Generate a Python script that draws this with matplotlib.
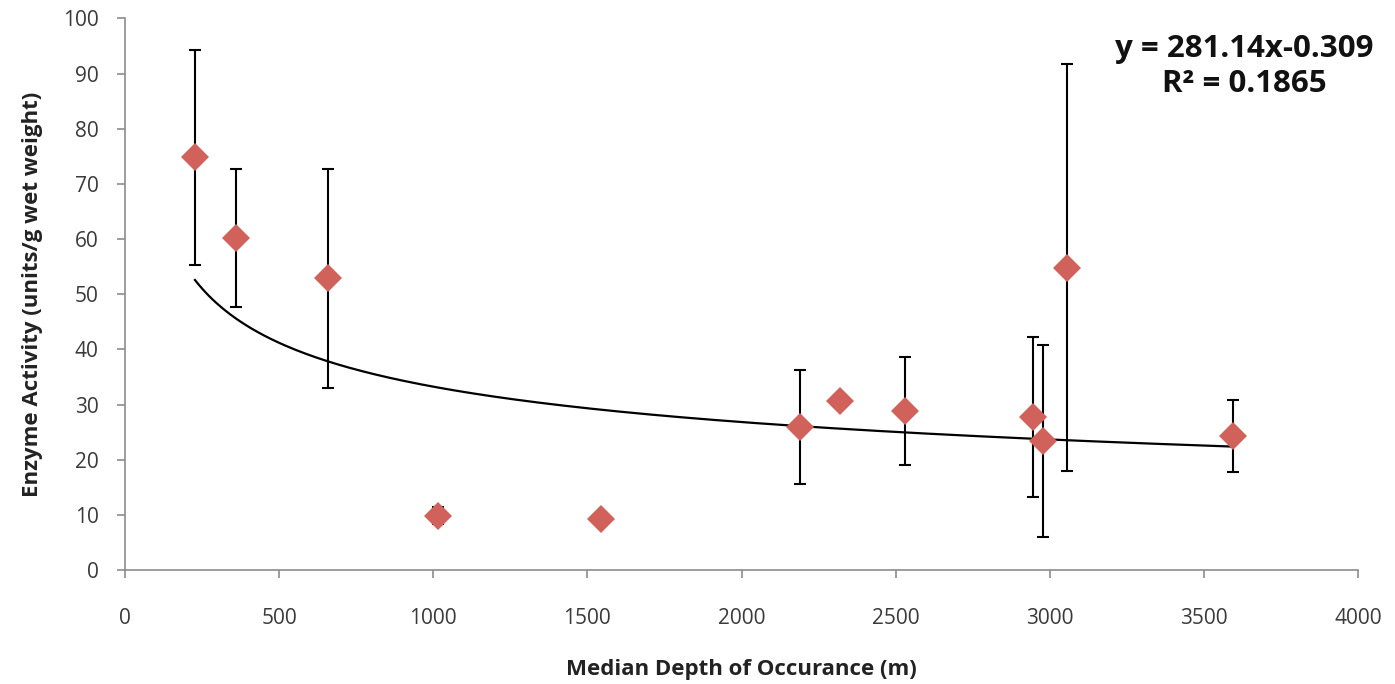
import numpy as np
import matplotlib.pyplot as plt

# данные
depth = [227, 361, 659, 1015, 1545, 2190, 2321, 2529, 2947, 2977, 3055, 3595]
activity = [74.8, 60.2, 52.9, 9.9, 9.2, 26.0, 30.6, 28.8, 27.7, 23.4, 54.8, 24.3]
err = [19.5, 12.5, 19.8, 1.5, 0, 10.3, 0, 9.8, 14.5, 17.4, 36.9, 6.5]

# степенной тренд y = a * x^b
coef_a = 281.14
coef_b = -0.309
eq_text = "y = 281.14x-0.309\nR² = 0.1865"

xticks = [0, 500, 1000, 1500, 2000, 2500, 3000, 3500, 4000]
yticks = [0, 10, 20, 30, 40, 50, 60, 70, 80, 90, 100]

plt.rcParams['font.family'] = ['Open Sans', 'DejaVu Sans']

fig = plt.figure(figsize=(13.95, 6.84), dpi=100)
ax = fig.add_axes([0.0896, 0.1664, 0.8839, 0.8067])

ax.errorbar(depth, activity, yerr=err, fmt='none', ecolor='black',
            elinewidth=1.5, capsize=4, capthick=1.5, zorder=2)

xs = np.linspace(min(depth), max(depth), 300)
ax.plot(xs, coef_a * xs ** coef_b, color='black', lw=1.6, zorder=3)

ax.plot(depth, activity, linestyle='none', marker='D', ms=14,
        color='#D0625B', markeredgewidth=0, zorder=4)

ax.set_xlim(0, 4000)
ax.set_ylim(0, 100)
ax.set_xticks(xticks)
ax.set_yticks(yticks)

for side in ['top', 'right']:
    ax.spines[side].set_visible(False)
for side in ['left', 'bottom']:
    ax.spines[side].set_color('#8c8c8c')
    ax.spines[side].set_linewidth(1.2)
ax.tick_params(colors='#8c8c8c', labelcolor='#3a3a3a', labelsize=15,
               length=6, width=1.2, direction='out')
ax.tick_params(axis='x', pad=21)
ax.tick_params(axis='y', pad=13)

ax.set_xlabel("Median Depth of Occurance (m)", fontsize=16,
              fontweight='bold', color='#222222', labelpad=22)
ax.set_ylabel("Enzyme Activity (units/g wet weight)", fontsize=16,
              fontweight='bold', color='#222222', labelpad=14)

fig.text(0.892, 0.903, eq_text, ha='center', va='center', fontsize=22.5,
         fontweight='bold', color='#111111', linespacing=1.22)

fig.savefig('out.png', dpi=100)
